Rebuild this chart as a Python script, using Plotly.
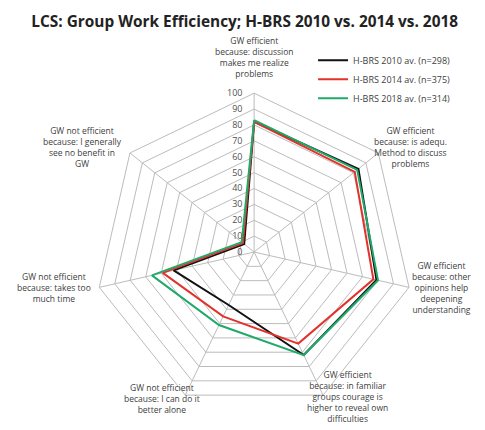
import plotly.graph_objects as go

categories = [
    "GW efficient<br>because: discussion<br>makes me realize<br>problems",
    "GW efficient<br>because: is adequ.<br>Method to discuss<br>problems",
    "GW efficient<br>because: other<br>opinions help<br>deepening<br>understanding",
    "GW efficient<br>because: in familiar<br>groups courage is<br>higher to reveal own<br>difficulties",
    "GW not efficient<br>because: I can do it<br>better alone",
    "GW not efficient<br>because: takes too<br>much time",
    "GW not efficient<br>because: I generally<br>see no benefit in<br>GW",
]

hbrs_2010 = [82, 84, 79, 72, 37, 52, 8]
hbrs_2014 = [82, 81, 77, 64, 45, 59, 9]
hbrs_2018 = [83, 83, 80, 72, 51, 66, 10]

series = [
    ("H-BRS 2010 av. (n=298)", hbrs_2010, "#111111"),
    ("H-BRS 2014 av. (n=375)", hbrs_2014, "#e3312b"),
    ("H-BRS 2018 av. (n=314)", hbrs_2018, "#21a96b"),
]

W, H = 485, 430
dom_x = [0.180, 0.835]
dom_y = [0.063, 0.802]

# label block centres, offset from the chart centre in pixels (x right, y down)
label_dx = [0, 156, 187, 93, -92, -200, -172]
label_dy = [-195, -105, 35, 144, 146, 35, -105]

fig = go.Figure()
for name, vals, color in series:
    fig.add_trace(go.Scatterpolar(
        r=vals + vals[:1],
        theta=categories + categories[:1],
        mode="lines",
        name=name,
        line=dict(color=color, width=2),
    ))

cx = (dom_x[0] + dom_x[1]) / 2
cy = (dom_y[0] + dom_y[1]) / 2
annotations = []
for text, dx, dy in zip(categories, label_dx, label_dy):
    annotations.append(dict(
        text=text, xref="paper", yref="paper",
        x=cx + dx / W, y=cy - dy / H,
        xanchor="center", yanchor="middle", align="center",
        showarrow=False,
        font=dict(family="Open Sans", size=8.5, color="#404040"),
    ))

fig.update_layout(
    width=W,
    height=H,
    paper_bgcolor="white",
    plot_bgcolor="white",
    margin=dict(l=0, r=0, t=0, b=0),
    font=dict(family="Open Sans", size=8, color="#404040"),
    title=dict(
        text="<b>LCS: Group Work Efficiency; H-BRS 2010 vs. 2014 vs. 2018</b>",
        x=0.488, xanchor="center", y=0.968, yanchor="middle",
        font=dict(family="Open Sans", size=15.4, color="#222222"),
    ),
    annotations=annotations,
    polar=dict(
        domain=dict(x=dom_x, y=dom_y),
        bgcolor="white",
        gridshape="linear",
        angularaxis=dict(
            direction="clockwise",
            rotation=90,
            showline=True,
            linecolor="#bcbcbc",
            linewidth=1,
            gridcolor="#bcbcbc",
            ticks="",
            showticklabels=False,
        ),
        radialaxis=dict(
            range=[0, 100],
            dtick=10,
            angle=90,
            tickangle=90,
            side="counterclockwise",
            showline=False,
            gridcolor="#bcbcbc",
            ticks="outside",
            ticklen=8,
            tickcolor="rgba(0,0,0,0)",
            tickfont=dict(size=9, color="#505050"),
        ),
    ),
    legend=dict(
        x=0.629, y=0.912, xanchor="left", yanchor="top",
        font=dict(size=9, color="#404040"),
        bgcolor="rgba(0,0,0,0)",
        tracegroupgap=0,
        itemwidth=30,
    ),
)

fig.write_html("out.html")
